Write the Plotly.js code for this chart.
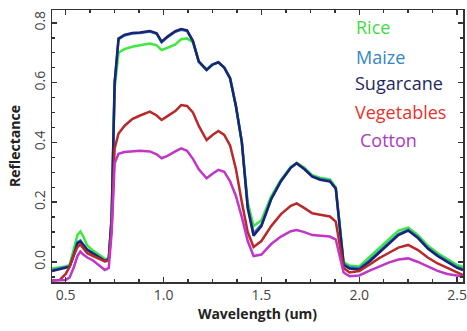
<!DOCTYPE html>
<html>
<head>
<meta charset="utf-8">
<script src="https://cdn.plot.ly/plotly-3.0.1.min.js"></script>
<style>html,body{margin:0;padding:0;background:#fff;}#chart{width:467px;height:331px;}</style>
</head>
<body>
<div id="chart"></div>
<script>
const seriesNames = ["Rice", "Maize", "Sugarcane", "Vegetables", "Cotton"];
const wavelength = [0.43,0.47,0.50,0.52,0.54,0.56,0.575,0.59,0.61,0.64,0.67,0.70,0.72,0.735,0.75,0.77,0.80,0.84,0.88,0.93,0.965,0.99,1.02,1.06,1.09,1.12,1.15,1.18,1.22,1.25,1.28,1.31,1.34,1.37,1.40,1.43,1.46,1.50,1.55,1.60,1.65,1.68,1.72,1.76,1.80,1.85,1.88,1.90,1.92,1.95,2.00,2.05,2.10,2.15,2.20,2.25,2.30,2.35,2.40,2.45,2.50,2.53];
const rice = [-0.022,-0.018,-0.015,-0.010,0.040,0.090,0.102,0.085,0.055,0.038,0.025,0.010,0.012,0.150,0.580,0.700,0.712,0.720,0.725,0.731,0.725,0.709,0.716,0.728,0.745,0.748,0.735,0.670,0.642,0.660,0.668,0.650,0.614,0.520,0.400,0.200,0.120,0.140,0.220,0.275,0.318,0.332,0.315,0.290,0.282,0.276,0.250,0.120,0.000,-0.012,-0.015,0.015,0.045,0.075,0.105,0.115,0.090,0.055,0.030,0.010,-0.010,-0.016];
const maize = [-0.028,-0.022,-0.018,-0.014,0.024,0.066,0.072,0.058,0.042,0.030,0.017,0.005,0.010,0.150,0.600,0.745,0.758,0.764,0.766,0.771,0.763,0.735,0.752,0.770,0.777,0.773,0.738,0.670,0.644,0.661,0.668,0.651,0.616,0.522,0.402,0.185,0.095,0.125,0.212,0.272,0.316,0.330,0.311,0.287,0.278,0.272,0.247,0.122,-0.006,-0.018,-0.021,0.004,0.034,0.064,0.093,0.108,0.083,0.048,0.023,0.003,-0.017,-0.024];
const sugarcane = [-0.030,-0.024,-0.020,-0.016,0.020,0.062,0.068,0.055,0.040,0.028,0.015,0.003,0.008,0.150,0.600,0.748,0.760,0.766,0.768,0.773,0.765,0.737,0.754,0.772,0.779,0.775,0.740,0.670,0.642,0.660,0.668,0.650,0.614,0.520,0.400,0.180,0.088,0.120,0.210,0.270,0.315,0.330,0.310,0.285,0.275,0.269,0.245,0.120,-0.010,-0.022,-0.025,0.000,0.030,0.060,0.090,0.105,0.080,0.045,0.020,0.000,-0.020,-0.027];
const vegetables = [-0.062,-0.060,-0.040,-0.016,0.020,0.050,0.058,0.045,0.029,0.020,0.012,0.002,0.005,0.120,0.380,0.430,0.455,0.478,0.490,0.503,0.490,0.475,0.488,0.505,0.525,0.522,0.500,0.455,0.408,0.425,0.438,0.425,0.390,0.310,0.200,0.100,0.050,0.070,0.120,0.160,0.188,0.196,0.180,0.163,0.158,0.152,0.135,0.060,-0.020,-0.035,-0.030,-0.010,0.012,0.030,0.048,0.057,0.040,0.015,-0.005,-0.020,-0.035,-0.044];
const cotton = [-0.062,-0.062,-0.060,-0.052,-0.020,0.020,0.035,0.025,0.015,0.005,-0.012,-0.027,-0.020,0.100,0.330,0.362,0.368,0.371,0.372,0.370,0.360,0.347,0.355,0.370,0.380,0.372,0.345,0.310,0.280,0.295,0.308,0.302,0.270,0.220,0.150,0.070,0.020,0.025,0.060,0.085,0.103,0.107,0.100,0.090,0.088,0.085,0.075,0.020,-0.035,-0.048,-0.045,-0.030,-0.015,-0.002,0.008,0.012,0.000,-0.015,-0.030,-0.040,-0.047,-0.049];
const xTickVals = [0.5, 1.0, 1.5, 2.0, 2.5];
const xTickText = ["0.5", "1.0", "1.5", "2.0", "2.5"];
const yTickVals = [0.0, 0.2, 0.4, 0.6, 0.8];
const yTickText = ["0.0", "0.2", "0.4", "0.6", "0.8"];

const seriesValues = [rice, maize, sugarcane, vegetables, cotton];
const lineColors = ["#3ee83e", "#2a7ad0", "#1b2471", "#b82a2a", "#c036c6"];
const textColors = ["#3fdc3f", "#3585c8", "#1e2a5e", "#e8322e", "#a83cbc"];
const legendY = [0.9375, 0.827, 0.732, 0.625, 0.522];
const legendX = [0.735, 0.735, 0.733, 0.733, 0.745];

const traces = seriesNames.map((n, i) => ({
  x: wavelength, y: seriesValues[i], name: n, type: "scatter", mode: "lines",
  line: {color: lineColors[i], width: 2.5}, showlegend: false
}));

const annotations = seriesNames.map((n, i) => ({
  text: n, xref: "paper", yref: "paper", x: legendX[i], y: legendY[i],
  xanchor: "left", yanchor: "middle", showarrow: false,
  font: {family: "Open Sans, sans-serif", size: 18, color: textColors[i]}
}));

const axisCommon = {
  showgrid: false, zeroline: false, showline: true, linecolor: "#333", linewidth: 1.5,
  mirror: "ticks", ticks: "inside", ticklen: 5, tickwidth: 1.5, tickcolor: "#333",
  tickfont: {family: "Open Sans, sans-serif", size: 14, color: "#444"}
};

const layout = {
  width: 467, height: 331,
  margin: {l: 52, r: 4, t: 10, b: 49},
  paper_bgcolor: "#fff", plot_bgcolor: "#fff",
  xaxis: Object.assign({}, axisCommon, {
    range: [0.43, 2.53], tickmode: "array", tickvals: xTickVals, ticktext: xTickText,
    minor: {dtick: 0.125, tick0: 0.5, ticks: "inside", ticklen: 3, tickcolor: "#333", tickwidth: 1.5},
    title: {text: "Wavelength (um)", font: {family: "Open Sans, sans-serif", size: 14, color: "#222", weight: "bold"}, standoff: 5}
  }),
  yaxis: Object.assign({}, axisCommon, {
    range: [-0.067, 0.843], tickmode: "array", tickvals: yTickVals, ticktext: yTickText, tickangle: -90,
    minor: {dtick: 0.05, tick0: 0, ticks: "inside", ticklen: 3, tickcolor: "#333", tickwidth: 1.5},
    title: {text: "Reflectance", font: {family: "Open Sans, sans-serif", size: 14, color: "#222", weight: "bold"}, standoff: 6}
  }),
  annotations: annotations
};

Plotly.newPlot("chart", traces, layout, {displayModeBar: false, staticPlot: true});
</script>
</body>
</html>
